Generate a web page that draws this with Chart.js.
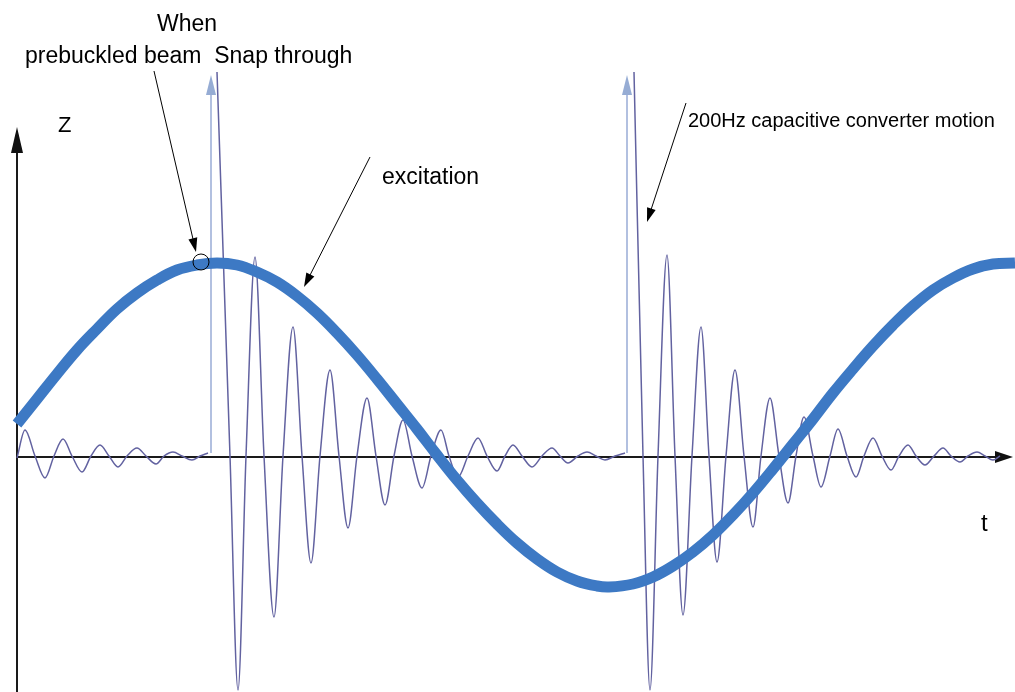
<!DOCTYPE html>
<html><head><meta charset="utf-8">
<script src="https://cdn.jsdelivr.net/npm/chart.js@4.4.1/dist/chart.umd.min.js"></script>
<style>html,body{margin:0;padding:0;background:#fff;overflow:hidden}#c{display:block}</style>
</head><body>
<canvas id="c" width="1015" height="692"></canvas>
<script>
// excitation (thick blue curve)
const excitationT = [0,20,40,60,80,100,120,140,160,180,200,220,240,260,280,300,320,340,360,380,400,420,440,460,480,500,520,540,560,580,592,616,636,656,676,696,716,736,756,776,796,816,836,856,876,896,916,936,956,976,998];
const excitationZ = [33,58,83,107,128,148,164,177,187,192,194,192,185,175,161,144,124,102,78,53,28,2,-23,-46,-67,-86,-102,-115,-124,-129,-130,-127,-120,-109,-95,-78,-58,-36,-12,13,38,64,88,111,132,151,167,179,188,193,194];

// response before snap-through
const preT = [0,8,18,28,37,46,55,65,74,83,92,101,110,120,129,139,147,156,165,175,183,191];
const preZ = [-1,27,1,-21,1,18,1,-15,1,12,1,-10,1,9,1,-7,1,5,1,-3,1,4];

// response after first snap-through
const burst1T = [200,213,221,229,238,247,257,266,276,285,294,303,313,322,331,340,350,359,368,377,386,395,405,414,424,432,441,451,461,470,480,488,496,505,515,525,535,543,551,561,570,579,588,598,608];
const burst1Z = [385,1,-233,1,200,1,-160,1,130,1,-106,1,87,1,-71,1,59,1,-48,1,37,1,-31,1,27,1,-20,1,19,1,-14,1,12,1,-10,1,9,1,-6,1,5,1,-3,1,4];

// response after second snap-through
const burst2T = [617,626,633,641,650,658,666,675,684,692,700,709,718,727,736,744,753,762,771,779,787,796,804,813,821,830,839,847,856,865,874,882,891,899,908,917,926,934,943,951,960,968,976,983];
const burst2Z = [385,1,-233,1,202,1,-158,1,130,1,-105,1,87,1,-70,1,59,1,-46,1,40,1,-30,1,28,1,-20,1,19,1,-13,1,12,1,-8,1,9,1,-5,1,5,1,-3,1];

// snap-through markers
const snapT = [194, 610];
const snapBottom = [4, 4];
const snapTop = [362, 362];

const labels = {
  when: "When",
  beam: "prebuckled beam  Snap through",
  z: "Z",
  excitation: "excitation",
  motion: "200Hz capacitive converter motion",
  t: "t"
};

const toXY = (ts, zs) => ts.map((t, i) => ({x: t, y: zs[i]}));

const FONT = "'Liberation Sans', Arial, sans-serif";

function arrowHead(ctx, x1, y1, x2, y2, len, half, color) {
  const a = Math.atan2(y2 - y1, x2 - x1);
  ctx.save();
  ctx.fillStyle = color;
  ctx.beginPath();
  ctx.moveTo(x2, y2);
  ctx.lineTo(x2 - len * Math.cos(a) + half * Math.sin(a), y2 - len * Math.sin(a) - half * Math.cos(a));
  ctx.lineTo(x2 - len * Math.cos(a) - half * Math.sin(a), y2 - len * Math.sin(a) + half * Math.cos(a));
  ctx.closePath();
  ctx.fill();
  ctx.restore();
}

function arrow(ctx, x1, y1, x2, y2) {
  const a = Math.atan2(y2 - y1, x2 - x1);
  ctx.save();
  ctx.strokeStyle = '#000';
  ctx.lineWidth = 1;
  ctx.beginPath();
  ctx.moveTo(x1, y1);
  ctx.lineTo(x2 - 8 * Math.cos(a), y2 - 8 * Math.sin(a));
  ctx.stroke();
  ctx.restore();
  arrowHead(ctx, x1, y1, x2, y2, 14, 4.5, '#000');
}

const axesPlugin = {
  id: 'axesPlugin',
  beforeDatasetsDraw(chart) {
    const ctx = chart.ctx, xs = chart.scales.x, ys = chart.scales.y;
    const x0 = xs.getPixelForValue(0), y0 = ys.getPixelForValue(0);
    ctx.save();
    ctx.strokeStyle = '#1a1a1a';
    ctx.lineWidth = 2;
    ctx.beginPath();
    ctx.moveTo(x0, chart.height);
    ctx.lineTo(x0, 150);
    ctx.moveTo(x0, y0);
    ctx.lineTo(998, y0);
    ctx.stroke();
    ctx.restore();
    arrowHead(ctx, x0, 400, x0, 127, 26, 6, '#111');
    arrowHead(ctx, 500, y0, 1013, y0, 18, 6, '#111');
  },
  afterDatasetsDraw(chart) {
    const ctx = chart.ctx, xs = chart.scales.x, ys = chart.scales.y;
    snapT.forEach((t, i) => {
      const px = xs.getPixelForValue(t);
      const top = ys.getPixelForValue(snapTop[i]);
      arrowHead(ctx, px, top + 50, px, top - 20, 20, 5, 'rgb(150,172,212)');
    });
    ctx.save();
    ctx.fillStyle = '#000';
    ctx.textBaseline = 'alphabetic';
    ctx.font = '23px ' + FONT;
    ctx.textAlign = 'center';
    ctx.fillText(labels.when, 187, 31);
    ctx.textAlign = 'left';
    ctx.fillText(labels.beam, 25, 63);
    ctx.fillText(labels.excitation, 382, 184);
    ctx.font = '22px ' + FONT;
    ctx.fillText(labels.z, 58, 132);
    ctx.font = '20px ' + FONT;
    ctx.fillText(labels.motion, 688, 127);
    ctx.font = '24px ' + FONT;
    ctx.fillText(labels.t, 981, 531);
    ctx.restore();
    arrow(ctx, 154, 71, 196, 252);
    arrow(ctx, 370, 157, 304, 287);
    arrow(ctx, 686, 103, 647, 222);
    ctx.save();
    ctx.strokeStyle = '#000';
    ctx.lineWidth = 1;
    ctx.beginPath();
    ctx.arc(201, 262, 8, 0, Math.PI * 2);
    ctx.stroke();
    ctx.restore();
  }
};

const respColor = 'rgb(98,98,160)';
const respStyle = {borderColor: respColor, borderWidth: 1.5, pointRadius: 0, cubicInterpolationMode: 'monotone', fill: false, clip: false};

new Chart(document.getElementById('c'), {
  type: 'line',
  data: {
    datasets: [
      {label: 'excitation', data: toXY(excitationT, excitationZ), borderColor: 'rgb(61,121,196)', borderWidth: 11, pointRadius: 0, tension: 0.4, fill: false, clip: false, borderCapStyle: 'butt'},
      Object.assign({label: 'pre', data: toXY(preT, preZ)}, respStyle),
      Object.assign({label: 'burst1', data: toXY(burst1T, burst1Z)}, respStyle),
      Object.assign({label: 'burst2', data: toXY(burst2T, burst2Z)}, respStyle),
      {label: 'snap1', data: [{x: snapT[0], y: snapBottom[0]}, {x: snapT[0], y: snapTop[0]}], borderColor: 'rgb(178,192,224)', borderWidth: 2, pointRadius: 0, tension: 0, clip: false},
      {label: 'snap2', data: [{x: snapT[1], y: snapBottom[1]}, {x: snapT[1], y: snapTop[1]}], borderColor: 'rgb(178,192,224)', borderWidth: 2, pointRadius: 0, tension: 0, clip: false}
    ]
  },
  options: {
    responsive: false,
    animation: false,
    devicePixelRatio: 1,
    layout: {padding: 0},
    plugins: {legend: {display: false}, tooltip: {enabled: false}},
    scales: {
      x: {type: 'linear', min: -17, max: 998, display: false},
      y: {type: 'linear', min: -235, max: 457, display: false}
    }
  },
  plugins: [axesPlugin]
});
</script>
</body></html>
